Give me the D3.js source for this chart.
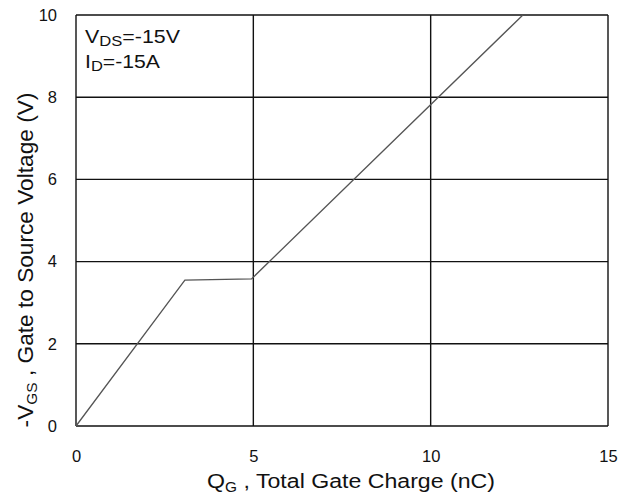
<!DOCTYPE html>
<html>
<head>
<meta charset="utf-8">
<script src="https://cdn.jsdelivr.net/npm/d3@7"></script>
<style>
  body { margin: 0; background: #fff; }
  text { font-family: "Liberation Sans", Arial, sans-serif; fill: #111; }
</style>
</head>
<body>
<script>
// gate charge curve
var qg = [0, 3.07, 4.95, 12.6];
var vgs = [0, 3.55, 3.58, 10];
var xTicks = [0, 5, 10, 15];
var yTicks = [0, 2, 4, 6, 8, 10];

var margin = { top: 15, right: 22, bottom: 69, left: 76 }
    , width = 630 - margin.left - margin.right
    , height = 495 - margin.top - margin.bottom;

var svg = d3.select("body").append("svg")
    .attr("width", 630)
    .attr("height", 495)
    .append("g")
    .attr("transform", "translate(" + margin.left + "," + margin.top + ")");

var xScale = d3.scaleLinear().domain([0, 15]).range([0, width]);
var yScale = d3.scaleLinear().domain([0, 10]).range([height, 0]);

// squeeze/stretch a text horizontally (in its own frame) to a given width
function fit(g, w) {
    var bb = g.select("text").node().getBBox();
    var t = g.attr("transform");
    g.attr("transform", t + " scale(" + (w / bb.width) + ",1)");
}

// grid
svg.selectAll(".vgrid").data(xTicks).enter().append("line")
    .attr("x1", d => xScale(d)).attr("x2", d => xScale(d))
    .attr("y1", 0).attr("y2", height)
    .attr("stroke", "#111").attr("stroke-width", 1.4);
svg.selectAll(".hgrid").data(yTicks).enter().append("line")
    .attr("x1", 0).attr("x2", width)
    .attr("y1", d => yScale(d)).attr("y2", d => yScale(d))
    .attr("stroke", "#111").attr("stroke-width", 1.4);

// axes (labels only)
var xAxis = svg.append("g")
    .attr("transform", "translate(0," + height + ")")
    .call(d3.axisBottom(xScale).tickValues(xTicks).tickSize(0).tickPadding(24));
var yAxis = svg.append("g")
    .call(d3.axisLeft(yScale).tickValues(yTicks).tickSize(0).tickPadding(19));
svg.selectAll(".domain").remove();
svg.selectAll(".tick text").attr("font-size", 16.5).attr("font-family", "Liberation Sans, Arial, sans-serif");
yAxis.selectAll(".tick text").attr("dy", "0.32em");

// curve
svg.append("path")
    .datum(qg.map((d, i) => [d, vgs[i]]))
    .attr("fill", "none")
    .attr("stroke", "#555")
    .attr("stroke-width", 1.3)
    .attr("d", d3.line().x(d => xScale(d[0])).y(d => yScale(d[1])));

// annotation
var a1 = svg.append("g").attr("transform", "translate(9,28)");
var ann = a1.append("text").attr("font-size", 18);
ann.append("tspan").text("V");
ann.append("tspan").attr("font-size", 14).attr("dy", 3).text("DS");
ann.append("tspan").attr("dy", -3).text("=-15V");
fit(a1, 95);
var a2 = svg.append("g").attr("transform", "translate(9,53)");
var ann2 = a2.append("text").attr("font-size", 18);
ann2.append("tspan").text("I");
ann2.append("tspan").attr("font-size", 14).attr("dy", 3).text("D");
ann2.append("tspan").attr("dy", -3).text("=-15A");
fit(a2, 75);

// x label
var xg = svg.append("g").attr("transform", "translate(" + (351 - margin.left) + "," + (488 - margin.top) + ")");
var xl = xg.append("text").attr("text-anchor", "middle").attr("font-size", 21);
xl.append("tspan").text("Q");
xl.append("tspan").attr("font-size", 14).attr("dy", 4).text("G");
xl.append("tspan").attr("dy", -4).text(" , Total Gate Charge (nC)");
fit(xg, 288);

// y label
var yg = svg.append("g").attr("transform", "translate(" + (33 - margin.left) + "," + (260 - margin.top) + ") rotate(-90)");
var yl = yg.append("text").attr("text-anchor", "middle").attr("font-size", 22);
yl.append("tspan").text("-V");
yl.append("tspan").attr("font-size", 15).attr("dy", 4).text("GS");
yl.append("tspan").attr("dy", -4).text(" , Gate to Source Voltage (V)");
fit(yg, 335);
</script>
</body>
</html>
